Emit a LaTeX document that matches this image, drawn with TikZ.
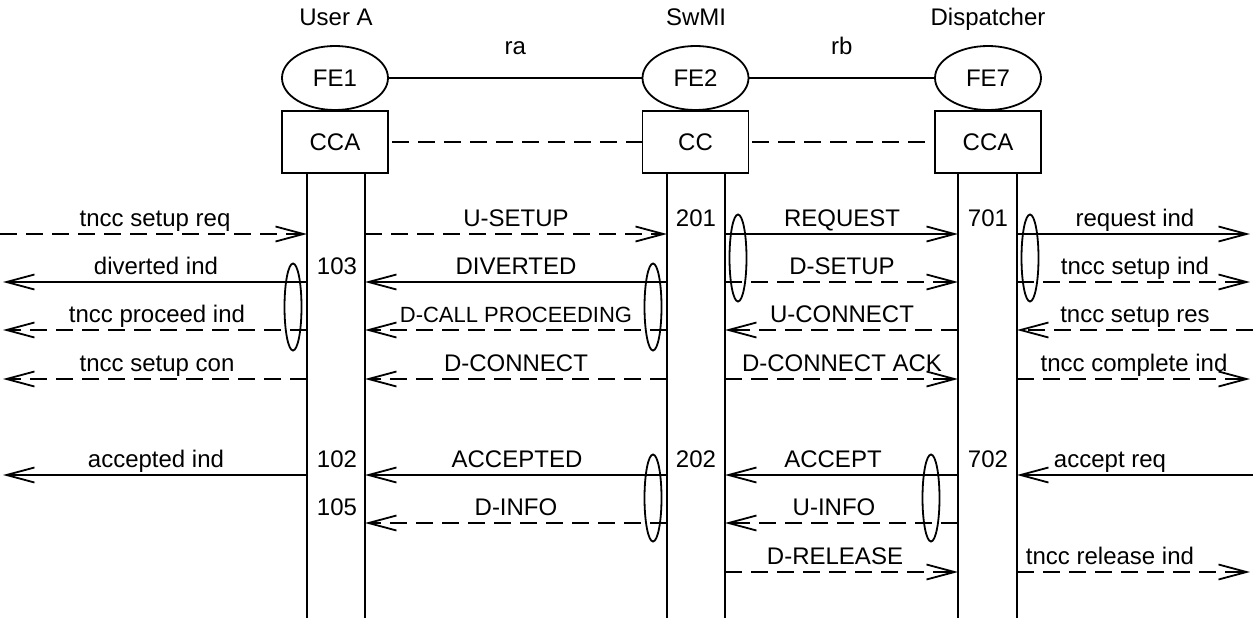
\documentclass[tikz,border=0pt]{standalone}
\usepackage{fontspec}
\setmainfont{Liberation Sans}
\usetikzlibrary{arrows.meta,shapes.geometric}
\begin{document}
\begin{tikzpicture}[x=1pt,y=-1pt,
  every node/.style={font=\fontsize{24}{28}\selectfont},
  fe/.style={draw, ellipse, line width=1.8pt, minimum width=106pt, minimum height=64pt, inner sep=0pt},
  fb/.style={draw, rectangle, line width=1.8pt, minimum width=106pt, minimum height=62pt, inner sep=0pt},
  life/.style={line width=1.8pt},
  dline/.style={line width=2.8pt, dash pattern=on 17pt off 9pt},
  sig/.style={line width=1.8pt, -{Straight Barb[length=28pt,width=15pt,line width=1.8pt]}},
  dsig/.style={sig, line width=2.8pt, dash pattern=on 17pt off 9pt},
  lab/.style={anchor=base, inner sep=0pt},
  grp/.style={draw, ellipse, line width=1.8pt, minimum width=17pt, minimum height=87pt, inner sep=0pt}]
\useasboundingbox (0,0) rectangle (1253,621);

% titles
\node[lab] (tA) at (336,25) {User A};
\node[lab] (tS) at (696,25) {SwMI};
\node[lab] (tD) at (988,25) {Dispatcher};

% functional entities
\node[fe] (fe1) at (335,78) {FE1};
\node[fe] (fe2) at (695.5,78) {FE2};
\node[fe] (fe7) at (988,78) {FE7};
\node[fb] (b1) at (335,142) {CCA};
\node[fb] (b2) at (695.5,142) {CC};
\node[fb] (b7) at (988,142) {CCA};

\draw[life] (fe1) -- node[lab, pos=0.5, yshift=24pt] (ra) {ra} (fe2);
\draw[life] (fe2) -- node[lab, pos=0.5, yshift=24pt] (rb) {rb} (fe7);
\draw[dline] ([xshift=3pt]b1.east) -- (b2);
\draw[dline] ([xshift=3pt]b2.east) -- (b7);

% lifelines
\coordinate (A1) at (307,173); \coordinate (A1b) at (307,618);
\coordinate (A2) at (365,173); \coordinate (A2b) at (365,618);
\coordinate (S1) at (667,173); \coordinate (S1b) at (667,618);
\coordinate (S2) at (725,173); \coordinate (S2b) at (725,618);
\coordinate (D1) at (958,173); \coordinate (D1b) at (958,618);
\coordinate (D2) at (1017,173); \coordinate (D2b) at (1017,618);
\foreach \l in {A1,A2,S1,S2,D1,D2} \draw[life] (\l) -- (\l b);

% edges
\coordinate (L) at (0,0);   \coordinate (Lt) at (3,0);
\coordinate (R) at (1253,0); \coordinate (Rt) at (1250,0);

% rows
\coordinate (r1) at (0,234);
\coordinate (r2) at (0,282);
\coordinate (r3) at (0,330);
\coordinate (r4) at (0,379);
\coordinate (r5) at (0,475);
\coordinate (r6) at (0,523);
\coordinate (r7) at (0,572);

% row 1
\draw[dsig] (L |- r1) -- (A1 |- r1);
\draw[dsig] (A2 |- r1) -- (S1 |- r1);
\draw[sig] (S2 |- r1) -- (D1 |- r1);
\draw[sig] (D2 |- r1) -- (Rt |- r1);
\node[lab] (m11) at (155,226) {tncc setup req};
\node[lab] (m12) at (516,226) {U-SETUP};
\node[lab] (m13) at (842,226) {REQUEST};
\node[lab] (m14) at (1135,226) {request ind};
\node[lab] (n201) at (696,226) {201};
\node[lab] (n701) at (988,226) {701};

% row 2
\draw[sig] (A1 |- r2) -- (Lt |- r2);
\draw[sig] (S1 |- r2) -- (A2 |- r2);
\draw[dsig] (S2 |- r2) -- (D1 |- r2);
\draw[dsig] (D2 |- r2) -- (Rt |- r2);
\node[lab] (m21) at (156,274) {diverted ind};
\node[lab] (m22) at (516,274) {DIVERTED};
\node[lab] (m23) at (842,274) {D-SETUP};
\node[lab] (m24) at (1135,274) {tncc setup ind};
\node[lab] (n103) at (337,274) {103};

% row 3
\draw[dsig] (A1 |- r3) -- (Lt |- r3);
\draw[dsig] (S1 |- r3) -- (A2 |- r3);
\draw[dsig] (D1 |- r3) -- (S2 |- r3);
\draw[dsig] (R |- r3) -- (D2 |- r3);
\node[lab] (m31) at (157,322) {tncc proceed ind};
\node[lab, font=\fontsize{22}{26}\selectfont] (m32) at (516,322) {D-CALL PROCEEDING};
\node[lab] (m33) at (842,322) {U-CONNECT};
\node[lab] (m34) at (1135,322) {tncc setup res};

% row 4
\draw[dsig] (A1 |- r4) -- (Lt |- r4);
\draw[dsig] (S1 |- r4) -- (A2 |- r4);
\draw[dsig] (S2 |- r4) -- (D1 |- r4);
\draw[dsig] (D2 |- r4) -- (Rt |- r4);
\node[lab] (m41) at (157,371) {tncc setup con};
\node[lab] (m42) at (516,371) {D-CONNECT};
\node[lab] (m43) at (842,371) {D-CONNECT ACK};
\node[lab] (m44) at (1134,371) {tncc complete ind};

% row 5
\draw[sig] (A1 |- r5) -- (Lt |- r5);
\draw[sig] (S1 |- r5) -- (A2 |- r5);
\draw[sig] (D1 |- r5) -- (S2 |- r5);
\draw[sig] (R |- r5) -- (D2 |- r5);
\node[lab] (m51) at (156,467) {accepted ind};
\node[lab] (m52) at (517,467) {ACCEPTED};
\node[lab] (m53) at (833,467) {ACCEPT};
\node[lab] (m54) at (1110,467) {accept req};
\node[lab] (n102) at (337,467) {102};
\node[lab] (n202) at (696,467) {202};
\node[lab] (n702) at (988,467) {702};

% row 6
\draw[dsig] (S1 |- r6) -- (A2 |- r6);
\draw[dsig] (D1 |- r6) -- (S2 |- r6);
\node[lab] (m62) at (516,515) {D-INFO};
\node[lab] (m63) at (834,515) {U-INFO};
\node[lab] (n105) at (337,515) {105};

% row 7
\draw[dsig] (S2 |- r7) -- (D1 |- r7);
\draw[dsig] (D2 |- r7) -- (Rt |- r7);
\node[lab] (m73) at (835,564) {D-RELEASE};
\node[lab] (m74) at (1110,564) {tncc release ind};

% grouping ellipses
\node[grp] (g1) at (293,307) {};
\node[grp] (g2) at (653,307) {};
\node[grp] (g3) at (738,258) {};
\node[grp] (g4) at (1030,258) {};
\node[grp] (g5) at (653,498) {};
\node[grp] (g6) at (931,498) {};
\end{tikzpicture}
\end{document}
